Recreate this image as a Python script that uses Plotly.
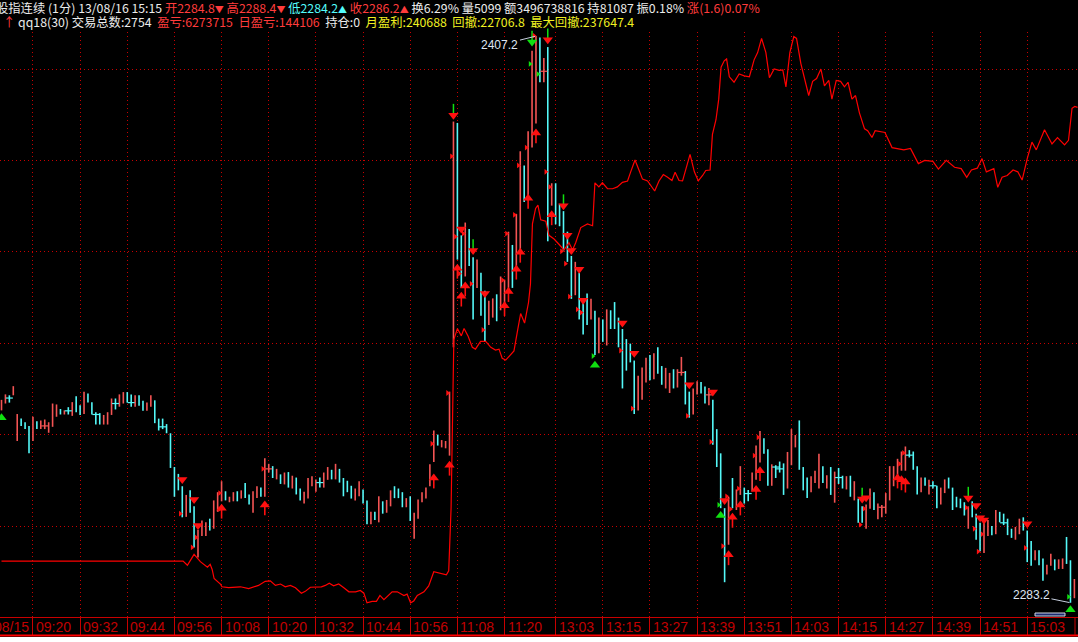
import plotly.graph_objects as go

# ---------------- data ----------------
# one-minute bars, index 0 .. 273 (high, low, direction 1=up/red, -1=down/cyan)
highs = [2327.6, 2328.8, 2328.6, 2330.6, 2324.5, 2323.5, 2322.7, 2321.9, 2323.9, 2322.9,
         2323.1, 2323.3, 2322.7, 2326.8, 2326.6, 2325.6, 2325.3, 2326.0, 2327.1, 2328.4,
         2326.4, 2329.4, 2329.0, 2327.1, 2324.9, 2324.7, 2324.3, 2324.9, 2327.9, 2327.9,
         2328.8, 2329.3, 2329.3, 2328.8, 2328.6, 2328.6, 2327.4, 2327.0, 2328.6, 2327.5,
         2323.5, 2323.5, 2322.3, 2320.3, 2312.9, 2311.4, 2308.7, 2306.8, 2307.8, 2304.3,
         2299.2, 2301.2, 2300.8, 2301.6, 2305.6, 2307.4, 2309.8, 2307.6, 2306.4, 2307.4,
         2307.6, 2307.8, 2309.4, 2306.9, 2307.6, 2308.7, 2308.4, 2314.8, 2313.6, 2313.1,
         2312.5, 2311.3, 2311.7, 2311.8, 2311.0, 2310.6, 2308.2, 2307.5, 2310.5, 2310.9,
         2310.2, 2310.6, 2311.7, 2312.9, 2312.3, 2313.6, 2312.5, 2310.5, 2309.9, 2308.8,
         2308.2, 2309.8, 2308.0, 2305.6, 2303.1, 2303.1, 2306.5, 2305.4, 2305.7, 2307.8,
         2308.7, 2308.2, 2307.4, 2306.1, 2306.5, 2302.9, 2305.8, 2307.4, 2308.4, 2313.5,
         2320.9, 2320.0, 2318.8, 2318.6, 2329.4, 2388.5, 2388.2, 2363.6, 2366.4, 2365.0,
         2358.8, 2358.3, 2355.4, 2351.5, 2349.3, 2349.8, 2350.7, 2354.6, 2353.9, 2364.4,
         2361.5, 2368.3, 2382.0, 2378.9, 2386.4, 2404.0, 2407.2, 2406.9, 2402.4, 2404.8,
         2375.0, 2375.0, 2370.5, 2368.9, 2364.4, 2359.1, 2357.8, 2355.4, 2349.8, 2350.9,
         2349.7, 2347.1, 2345.6, 2345.2, 2347.4, 2347.2, 2349.0, 2345.6, 2343.1, 2340.9,
         2339.9, 2336.2, 2332.9, 2334.7, 2336.8, 2337.4, 2337.8, 2339.1, 2335.0, 2334.6,
         2333.5, 2334.3, 2334.3, 2337.0, 2333.9, 2329.4, 2330.1, 2331.7, 2331.5, 2330.5,
         2330.2, 2327.6, 2321.2, 2315.9, 2303.9, 2306.4, 2310.5, 2308.0, 2313.1, 2308.4,
         2307.9, 2311.7, 2317.6, 2320.8, 2319.2, 2316.8, 2313.5, 2313.3, 2314.1, 2313.7,
         2316.2, 2321.2, 2319.9, 2323.1, 2312.9, 2310.6, 2310.9, 2312.1, 2315.8, 2313.1,
         2311.1, 2312.9, 2311.9, 2312.7, 2311.0, 2310.9, 2311.0, 2309.8, 2306.0, 2304.3,
         2304.7, 2308.2, 2307.4, 2304.9, 2304.6, 2307.2, 2313.1, 2313.1, 2314.7, 2316.3,
         2317.4, 2316.6, 2316.3, 2313.1, 2310.6, 2310.6, 2310.1, 2309.8, 2308.8, 2308.4,
         2310.2, 2310.6, 2308.4, 2306.4, 2306.0, 2305.2, 2304.3, 2305.4, 2302.7, 2300.7,
         2300.7, 2301.3, 2300.0, 2303.5, 2303.1, 2302.7, 2301.6, 2299.4, 2299.8, 2301.6,
         2301.9, 2299.0, 2296.7, 2294.7, 2294.7, 2292.9, 2291.5, 2293.9, 2292.7, 2292.7,
         2292.9, 2297.6, 2292.5, 2288.4]
lows = [2325.3, 2326.8, 2327.0, 2328.6, 2318.6, 2321.9, 2321.2, 2315.9, 2318.6, 2321.2,
        2321.2, 2321.2, 2320.4, 2321.7, 2323.9, 2324.4, 2324.4, 2324.4, 2324.1, 2324.9,
        2324.3, 2324.5, 2327.0, 2324.4, 2322.2, 2322.2, 2322.2, 2322.2, 2324.3, 2325.5,
        2326.1, 2326.8, 2327.0, 2326.1, 2326.1, 2326.3, 2325.2, 2325.2, 2326.1, 2322.5,
        2320.9, 2321.2, 2320.3, 2312.7, 2306.4, 2307.8, 2301.9, 2302.0, 2302.9, 2295.3,
        2293.1, 2297.8, 2297.8, 2299.0, 2299.4, 2303.1, 2305.4, 2305.6, 2305.2, 2305.4,
        2305.4, 2306.0, 2306.1, 2304.7, 2302.9, 2306.1, 2306.4, 2306.4, 2311.7, 2310.5,
        2310.2, 2309.2, 2309.1, 2308.4, 2308.2, 2306.9, 2305.6, 2304.9, 2306.0, 2308.7,
        2307.5, 2308.4, 2308.4, 2310.1, 2310.2, 2310.2, 2309.5, 2306.5, 2307.4, 2306.0,
        2305.6, 2306.5, 2304.9, 2300.4, 2300.4, 2301.3, 2300.8, 2302.7, 2302.9, 2304.3,
        2306.1, 2306.1, 2304.1, 2304.1, 2301.1, 2297.2, 2301.6, 2305.2, 2306.0, 2308.7,
        2314.0, 2317.6, 2317.2, 2317.0, 2315.4, 2339.1, 2358.3, 2352.1, 2354.6, 2356.9,
        2345.2, 2352.1, 2346.0, 2340.3, 2344.0, 2345.6, 2344.8, 2347.2, 2347.6, 2351.3,
        2352.1, 2355.8, 2359.5, 2370.9, 2371.3, 2382.8, 2388.1, 2397.1, 2397.1, 2362.3,
        2370.1, 2366.0, 2365.6, 2360.3, 2357.8, 2349.7, 2350.5, 2345.2, 2341.9, 2344.0,
        2345.2, 2337.4, 2337.8, 2340.3, 2339.5, 2343.1, 2343.1, 2339.1, 2330.1, 2334.0,
        2335.8, 2324.5, 2325.3, 2327.6, 2331.4, 2331.9, 2332.1, 2333.3, 2330.9, 2330.1,
        2329.1, 2330.1, 2330.3, 2332.9, 2326.6, 2323.7, 2324.4, 2328.8, 2329.0, 2326.8,
        2326.4, 2317.8, 2312.9, 2303.9, 2287.7, 2295.9, 2303.9, 2303.5, 2306.8, 2304.9,
        2305.4, 2307.6, 2310.1, 2313.9, 2315.8, 2308.8, 2308.8, 2310.5, 2311.7, 2306.8,
        2308.2, 2313.3, 2317.2, 2312.3, 2307.8, 2306.1, 2307.4, 2309.4, 2308.2, 2309.4,
        2308.2, 2306.8, 2305.1, 2309.2, 2308.2, 2308.0, 2306.4, 2305.6, 2300.7, 2300.7,
        2299.4, 2303.8, 2303.5, 2301.5, 2301.9, 2302.7, 2305.6, 2308.7, 2310.9, 2312.1,
        2312.1, 2315.0, 2312.3, 2306.9, 2307.4, 2308.8, 2306.9, 2308.2, 2303.9, 2304.7,
        2307.2, 2308.2, 2303.5, 2304.1, 2303.9, 2302.3, 2299.4, 2301.9, 2297.0, 2294.5,
        2294.1, 2297.8, 2298.0, 2298.2, 2300.8, 2300.2, 2298.0, 2297.4, 2297.0, 2298.2,
        2299.0, 2292.1, 2291.3, 2292.5, 2291.4, 2288.0, 2289.4, 2291.3, 2290.3, 2290.6,
        2290.6, 2291.7, 2283.2, 2284.2]
dirs = [1, 1, -1, 1, 1, -1, -1, -1, 1, -1, 1, 1, 1, 1, 1, -1, 1, -1, 1, -1,
        -1, 1, -1, -1, -1, -1, 1, 1, 1, -1, 1, 1, -1, -1, 1, -1, -1, 1, 1, -1,
        -1, -1, -1, -1, -1, -1, -1, 1, -1, -1, 1, 1, 1, -1, 1, 1, 1, -1, 1, 1,
        -1, 1, -1, -1, 1, 1, -1, 1, 1, -1, 1, -1, 1, -1, 1, -1, -1, 1, 1, 1,
        1, -1, 1, 1, -1, 1, -1, -1, -1, -1, 1, 1, -1, -1, 1, -1, 1, -1, 1, 1,
        -1, -1, -1, 1, -1, 1, 1, 1, 1, 1, 1, -1, 1, 1, 1, 1, -1, -1, 1, -1,
        -1, 1, -1, -1, 1, 1, -1, 1, 1, 1, -1, 1, 1, -1, 1, 1, 1, -1, 1, -1,
        1, -1, -1, -1, -1, -1, 1, -1, -1, -1, 1, -1, 1, -1, 1, -1, -1, -1, -1, -1,
        -1, -1, 1, 1, 1, -1, 1, -1, -1, 1, 1, -1, 1, 1, -1, -1, 1, 1, -1, -1,
        1, -1, -1, -1, -1, 1, -1, 1, 1, -1, -1, 1, 1, 1, -1, -1, 1, -1, -1, -1,
        1, 1, 1, -1, -1, -1, 1, 1, 1, -1, 1, -1, 1, -1, -1, 1, -1, 1, -1, -1,
        1, 1, -1, 1, 1, 1, 1, 1, 1, 1, 1, -1, -1, -1, 1, -1, 1, -1, -1, 1,
        1, -1, -1, -1, -1, -1, 1, -1, -1, -1, 1, 1, -1, 1, -1, -1, -1, -1, 1, 1,
        -1, -1, -1, 1, -1, -1, 1, 1, -1, 1, 1, -1, -1, 1]
# bars whose open equals close (drawn with a small cross tick)
doji_idx = [2, 11, 17, 24, 29, 33, 41, 68, 81, 138, 173, 180, 190, 197, 198, 213, 224, 231, 237, 255]
doji_px = [2328.0, 2321.9, 2325.2, 2324.4, 2326.8, 2327.0, 2321.7, 2312.5, 2309.5, 2399.5,
           2333.6, 2328.7, 2307.1, 2312.9, 2312.5, 2310.6, 2304.1, 2315.5, 2308.8, 2300.7]

# second series (thin red line)
line_idx = [0, 46.2, 47.3, 49.0, 50.6, 52.4, 53.1, 53.6, 54.1, 55.7, 56.1, 57.8, 60.8, 62.9, 65.4,
            67.1, 68.4, 69.7, 71.0, 72.2, 73.5, 74.8, 76.3, 77.3, 78.6, 79.9, 81.4, 82.4, 83.4,
            84.5, 85.8, 87.1, 88.4, 90.1, 91.3, 92.2, 93.0, 94.3, 95.4, 96.3, 97.3, 99.4, 100.7,
            102.4, 103.2, 104.1, 104.9, 105.8, 107.5, 108.7, 110.0, 113.2, 113.8, 114.4, 114.8,
            115.1, 116.0, 117.0, 117.7, 118.7, 119.8, 120.6, 121.9, 123.2, 124.5, 125.7, 126.6,
            127.4, 128.3, 129.6, 130.4, 131.4, 132.1, 133.1, 134.1, 134.6, 135.1, 135.9, 136.5,
            137.2, 138.5, 139.3, 140.6, 141.9, 143.1, 144.4, 145.3, 146.1, 147.4, 149.1, 150.4,
            151.0, 152.0, 152.9, 154.2, 155.5, 156.7, 158.0, 159.3, 160.1, 161.2, 162.2, 163.1,
            164.4, 166.2, 167.3, 168.4, 169.5, 170.6, 171.4, 172.4, 173.3, 174.1, 175.2, 176.3,
            177.3, 178.4, 179.2, 180.3, 180.9, 181.8, 182.5, 183.1, 183.9, 184.5, 185.2, 186.4,
            187.7, 189.0, 190.3, 191.5, 192.4, 193.4, 194.5, 195.4, 196.6, 197.9, 198.8, 199.6,
            200.6, 201.6, 202.3, 203.4, 204.5, 205.4, 206.4, 207.4, 208.5, 209.4, 210.5, 211.3,
            212.4, 213.5, 214.5, 215.4, 216.4, 217.3, 218.3, 219.6, 220.4, 221.5, 222.3, 223.4,
            224.8, 226.6, 228.1, 229.6, 231.3, 233.3, 234.9, 237.0, 238.4, 240.4, 242.5, 244.2,
            245.6, 246.8, 248.3, 249.5, 250.6, 252.0, 252.5, 253.5, 254.6, 255.9, 257.4, 258.6,
            259.7, 261.0, 262.2, 263.3, 265.4, 267.3, 268.7, 270.5, 271.5, 272.4, 273.1, 273.8]
line_val = [2292.3, 2292.3, 2291.4, 2293.8, 2292.2, 2291.0, 2291.6, 2290.5, 2288.5, 2287.3, 2286.7,
            2286.5, 2286.7, 2286.3, 2287.0, 2287.9, 2288.0, 2287.0, 2287.3, 2286.7, 2287.0, 2286.5,
            2285.3, 2285.7, 2286.6, 2286.6, 2286.7, 2287.0, 2287.5, 2286.9, 2287.3, 2286.5, 2285.6,
            2285.6, 2285.9, 2285.3, 2283.2, 2283.5, 2283.5, 2284.8, 2283.9, 2285.6, 2285.6, 2284.8,
            2285.1, 2283.2, 2283.6, 2284.8, 2285.6, 2286.9, 2290.0, 2289.3, 2290.2, 2304.0, 2326.9,
            2340.8, 2343.2, 2341.6, 2343.2, 2341.6, 2339.1, 2338.7, 2340.4, 2340.4, 2339.1, 2338.5,
            2338.7, 2336.7, 2336.3, 2337.5, 2338.3, 2343.2, 2346.5, 2344.4, 2348.9, 2353.0, 2366.1,
            2369.5, 2370.2, 2367.0, 2366.7, 2363.6, 2362.8, 2361.6, 2360.4, 2362.0, 2360.4, 2362.0,
            2365.3, 2366.1, 2365.7, 2375.1, 2374.2, 2375.1, 2373.8, 2373.8, 2374.2, 2375.2, 2375.5,
            2377.5, 2380.1, 2377.9, 2375.9, 2375.5, 2373.3, 2375.5, 2376.9, 2376.3, 2375.6, 2377.4,
            2375.6, 2375.5, 2377.9, 2381.3, 2377.5, 2375.5, 2376.7, 2377.8, 2377.9, 2385.7, 2388.9,
            2393.4, 2400.4, 2401.8, 2402.2, 2398.3, 2397.1, 2398.9, 2398.5, 2398.3, 2402.0, 2403.6,
            2406.7, 2403.6, 2398.1, 2400.0, 2399.7, 2399.8, 2396.1, 2403.6, 2407.1, 2406.7, 2401.2,
            2397.1, 2394.2, 2397.3, 2397.9, 2400.0, 2396.3, 2397.5, 2393.4, 2397.5, 2397.3, 2396.1,
            2397.1, 2393.4, 2394.2, 2390.4, 2386.9, 2386.5, 2385.0, 2386.5, 2386.3, 2386.1, 2382.8,
            2382.6, 2382.3, 2382.6, 2379.3, 2380.0, 2379.8, 2378.1, 2380.0, 2378.5, 2378.2, 2376.3,
            2377.9, 2378.3, 2380.4, 2377.5, 2377.9, 2378.2, 2374.1, 2376.3, 2376.7, 2377.9, 2377.5,
            2375.7, 2380.4, 2384.0, 2382.3, 2386.7, 2383.6, 2385.0, 2383.4, 2384.4, 2391.4, 2391.8,
            2391.6]

# trade signals
sell_idx = [46, 49, 50, 115, 117, 120, 123, 139, 143, 144, 145, 147, 148, 158, 161, 175, 181, 184,
            219, 220, 246, 248, 249, 250, 261]
sell_px = [2310.2, 2305.8, 2300.1, 2389.9, 2365.0, 2360.3, 2350.9, 2406.4, 2370.1, 2363.6, 2360.3,
           2356.2, 2349.4, 2344.4, 2337.8, 2330.9, 2329.3, 2305.6, 2305.9, 2306.2, 2306.1, 2304.5,
           2301.8, 2301.3, 2300.5]
green_sell_idx = [135, 137]
green_sell_px = [2405.9, 2408.3]
stem_idx = [115, 120, 135, 139, 143, 219, 246]          # green shafts above the down signals
stem_px = [2389.9, 2360.3, 2405.9, 2406.4, 2370.1, 2305.9, 2306.1]
buy_idx = [56, 67, 110, 114, 116, 117, 118, 128, 129, 131, 132, 134, 136, 140, 185, 186, 188, 192,
           193, 228, 229, 230]
buy_px = [2303.9, 2304.6, 2310.5, 2313.3, 2356.4, 2350.3, 2352.5, 2348.2, 2351.3, 2356.2, 2359.9,
          2371.7, 2386.0, 2368.1, 2293.7, 2301.9, 2304.6, 2308.0, 2312.1, 2310.5, 2310.1, 2309.6]
green_buy_idx = [0, 151, 183, 272]
green_buy_px = [2323.7, 2335.2, 2302.3, 2281.7]
flag_idx = [46, 49, 50, 56, 56, 67, 110, 114, 115, 116, 117, 118, 120, 123, 128, 129, 131, 132, 134,
            136, 139, 140, 143, 144, 145, 147, 148, 158, 161, 175, 181, 184, 185, 186, 188, 192, 193,
            219, 220, 229, 230, 246, 248, 249, 250, 261]
flag_px = [2302.7, 2295.3, 2297.5, 2303.7, 2307.2, 2312.5, 2318.0, 2329.1, 2380.9, 2363.3, 2355.2,
           2364.0, 2353.0, 2342.9, 2353.8, 2364.0, 2368.1, 2378.9, 2382.8, 2407.3, 2377.5, 2374.2,
           2360.1, 2357.4, 2350.2, 2347.4, 2346.7, 2338.4, 2325.7, 2324.1, 2318.4, 2295.6, 2306.5,
           2303.7, 2308.2, 2315.4, 2319.4, 2300.3, 2303.8, 2313.6, 2316.0, 2304.0, 2299.4, 2294.4,
           2298.2, 2295.2]
green_flag_idx = [0, 135, 137, 151, 183, 272]
green_flag_px = [2326.8, 2401.1, 2398.9, 2337.2, 2304.6, 2284.5]

# axis labels
tick_idx = [8, 20, 32, 44, 56, 68, 80, 92, 104, 116, 128,
            141, 153, 165, 177, 189, 201, 213, 225, 237, 249, 261]
tick_text = ["09:20", "09:32", "09:44", "09:56", "10:08", "10:20", "10:32", "10:44", "10:56",
             "11:08", "11:20", "13:03", "13:15", "13:27", "13:39", "13:51", "14:03", "14:15",
             "14:27", "14:39", "14:51", "15:03"]
grid_prices = [2300, 2320, 2340, 2360, 2380, 2400]

day_max_idx, day_max = 136, 2407.2
day_min_idx, day_min = 272, 2283.2

# header values
h_name, h_period, h_date, h_time = "股指连续", "(1分)", "13/08/16", "15:15"
h_open, h_high, h_low, h_close = "2284.8", "2288.4", "2284.2", "2286.2"
h_turn, h_vol, h_amt, h_oi, h_amp, h_chg = "6.29%", "5099", "3496738816", "81087", "0.18%", "(1.6)0.07%"
s_name, s_trades, s_pnl, s_day, s_pos = "qq18(30)", "2754", "6273715", "144106", "0"
s_month, s_dd, s_maxdd = "240688", "22706.8", "237647.4"

# ---------------- styling ----------------
W, H = 1078, 642
PX_PER_BAR = 3.93
X0_PX = 1.5
AXIS_PX = 617
TOP_PX = 32
PRICE_PER_PX = 0.21882
BAR_RED = "#f45454"
BAR_CYAN = "#54f8f8"
SIG_RED = "#ff1010"
SIG_GREEN = "#10e010"
GRID = "#c80000"

x_lo = -X0_PX / PX_PER_BAR
x_hi = (W - X0_PX) / PX_PER_BAR
y_lo = 2400 - (AXIS_PX - 69) * PRICE_PER_PX
y_hi = 2400 + (69 - TOP_PX) * PRICE_PER_PX

fig = go.Figure()

rx, ry, cx, cy = [], [], [], []
for i, (h, l, d) in enumerate(zip(highs, lows, dirs)):
    if d > 0:
        rx += [i, i, None]; ry += [l, h, None]
    else:
        cx += [i, i, None]; cy += [l, h, None]
fig.add_trace(go.Scatter(x=rx, y=ry, mode="lines", line=dict(color=BAR_RED, width=1.6), hoverinfo="skip"))
fig.add_trace(go.Scatter(x=cx, y=cy, mode="lines", line=dict(color=BAR_CYAN, width=1.6), hoverinfo="skip"))
doji_col = [BAR_RED if dirs[i] > 0 else BAR_CYAN for i in doji_idx]
fig.add_trace(go.Scatter(x=doji_idx, y=doji_px, mode="markers",
                         marker=dict(symbol="line-ew", size=5, line=dict(width=1.2, color=doji_col)),
                         hoverinfo="skip"))

fig.add_trace(go.Scatter(x=line_idx, y=line_val, mode="lines",
                         line=dict(color="#ff0000", width=1.2), hoverinfo="skip"))

mk = dict(mode="markers", hoverinfo="skip", cliponaxis=False)
# green shafts above sell signals
fig.add_trace(go.Scatter(x=stem_idx, y=[p + 1.4 for p in stem_px],
                         marker=dict(symbol="line-ns", size=7, line=dict(width=1.5, color=SIG_GREEN)), **mk))
# buy arrow shafts
fig.add_trace(go.Scatter(x=buy_idx, y=[p - 1.2 for p in buy_px],
                         marker=dict(symbol="line-ns", size=7, line=dict(width=1.6, color=SIG_RED)), **mk))
fig.add_trace(go.Scatter(x=sell_idx, y=sell_px,
                         marker=dict(symbol="triangle-down", size=9, color=SIG_RED), **mk))
fig.add_trace(go.Scatter(x=green_sell_idx, y=green_sell_px,
                         marker=dict(symbol="triangle-down", size=9, color=SIG_GREEN), **mk))
fig.add_trace(go.Scatter(x=buy_idx, y=buy_px,
                         marker=dict(symbol="triangle-up", size=9, color=SIG_RED), **mk))
fig.add_trace(go.Scatter(x=green_buy_idx, y=green_buy_px,
                         marker=dict(symbol="triangle-up", size=9, color=SIG_GREEN), **mk))
fig.add_trace(go.Scatter(x=[i - 0.5 for i in flag_idx], y=flag_px,
                         marker=dict(symbol="triangle-right", size=5, color=SIG_RED), **mk))
fig.add_trace(go.Scatter(x=[i - 0.5 for i in green_flag_idx], y=green_flag_px,
                         marker=dict(symbol="triangle-right", size=5, color=SIG_GREEN), **mk))

ann = []
lab_font = dict(family="Liberation Sans Narrow, Liberation Sans, Arial", size=14, color="#c00000")
y_lab = (H - 627) / H
for t, s in zip(tick_idx, tick_text):
    ann.append(dict(x=t, xref="x", y=y_lab, yref="paper", text=s, showarrow=False,
                    xanchor="left", yanchor="middle", xshift=1, font=lab_font))
ann.append(dict(x=-8 / W, xref="paper", y=y_lab, yref="paper", text="08/15", showarrow=False,
                xanchor="left", yanchor="middle", font=lab_font))

val_font = dict(family="Liberation Sans, Arial", size=12, color="#dfe6f2")
ann.append(dict(x=day_max_idx, y=day_max, xref="x", yref="y", text=f"{day_max:.1f}",
                showarrow=True, arrowhead=0, arrowwidth=1, arrowcolor="#c8d0e0",
                ax=-36, ay=9, standoff=1, font=val_font))
ann.append(dict(x=day_min_idx, y=day_min, xref="x", yref="y", text=f"{day_min:.1f}",
                showarrow=True, arrowhead=0, arrowwidth=1, arrowcolor="#c8d0e0",
                ax=-39, ay=-8, standoff=1, font=val_font))

WH, RD, CY, YL = "#ececec", "#ff3c3c", "#54fcfc", "#f0f020"
def sp(c, t):
    return f"<span style='color:{c}'>{t}</span>"
def tri(c, t):
    return f"<span style='color:{c};font-size:9px'>{t}</span>"
NB = "\u00a0"
row1 = (sp(WH, f"{h_name} {h_period} {h_date} {h_time} ") +
        sp(RD, f"开{h_open}") + tri(RD, "▼") + " " +
        sp(RD, f"高{h_high}") + tri(RD, "▼") + " " +
        sp(CY, f"低{h_low}") + tri(CY, "▲") + " " +
        sp(RD, f"收{h_close}") + tri(RD, "▲") + " " +
        sp(WH, f"换{h_turn} 量{h_vol} 额{h_amt} 持{h_oi} 振{h_amp} ") +
        sp(RD, f"涨{h_chg}"))
row2 = (sp(RD, "↑") + " " + sp(WH, f"{s_name} 交易总数:{s_trades}") + NB * 2 +
        sp(RD, f"盈亏:{s_pnl}") + NB * 2 + sp(RD, f"日盈亏:{s_day}") + NB * 2 +
        sp(WH, f"持仓:{s_pos}") + NB * 2 + sp(YL, f"月盈利:{s_month}") + NB * 2 +
        sp(YL, f"回撤:{s_dd}") + NB * 2 + sp(YL, f"最大回撤:{s_maxdd}"))
hdr_font = dict(family="Noto Sans CJK SC", size=12.3, color=WH)
ann.append(dict(x=-6 / W, xref="paper", y=(H - 7.5) / H, yref="paper", text=row1, showarrow=False,
                xanchor="left", yanchor="middle", font=hdr_font))
ann.append(dict(x=1 / W, xref="paper", y=(H - 22.5) / H, yref="paper", text=row2, showarrow=False,
                xanchor="left", yanchor="middle", font=hdr_font))

shapes = [
    dict(type="line", xref="paper", yref="paper", x0=0, x1=1, y0=(H - 635.5) / H, y1=(H - 635.5) / H,
         line=dict(color="#ff0000", width=2)),
    dict(type="rect", xref="paper", yref="paper", x0=0, x1=1, y0=0, y1=(H - 637) / H,
         fillcolor="#ffffff", line=dict(width=0)),
    dict(type="line", xref="paper", yref="paper", x0=1075 / W, x1=1075 / W,
         y0=(H - 635) / H, y1=(H - AXIS_PX) / H, line=dict(color=GRID, width=1)),
    dict(type="rect", xref="paper", yref="paper", x0=1035 / W, x1=1065 / W,
         y0=(H - 616) / H, y1=(H - 613) / H, fillcolor="#1c2c70", line=dict(color="#d0d4e0", width=1)),
]

fig.update_layout(
    width=W, height=H, margin=dict(l=0, r=0, t=0, b=0),
    paper_bgcolor="#000000", plot_bgcolor="#000000", showlegend=False,
    xaxis=dict(range=[x_lo, x_hi], domain=[0, 1], tickvals=tick_idx, showticklabels=False,
               ticks="outside", ticklen=18, tickwidth=1, tickcolor=GRID, automargin=False,
               showgrid=True, gridcolor=GRID, griddash="1px,3px", gridwidth=1,
               showline=True, linecolor=GRID, linewidth=1, zeroline=False, fixedrange=True),
    yaxis=dict(range=[y_lo, y_hi], domain=[(H - AXIS_PX) / H, (H - TOP_PX) / H],
               tickvals=grid_prices, showticklabels=False, ticks="", automargin=False,
               showgrid=True, gridcolor=GRID, griddash="1px,3px", gridwidth=1,
               showline=False, zeroline=False, fixedrange=True),
    annotations=ann, shapes=shapes,
)

# the page's default 8px body margin would shift the figure; remove it
fig.write_html("out.html", config={"displayModeBar": False},
               post_script="document.body.style.margin='0';document.body.style.overflow='hidden';")
